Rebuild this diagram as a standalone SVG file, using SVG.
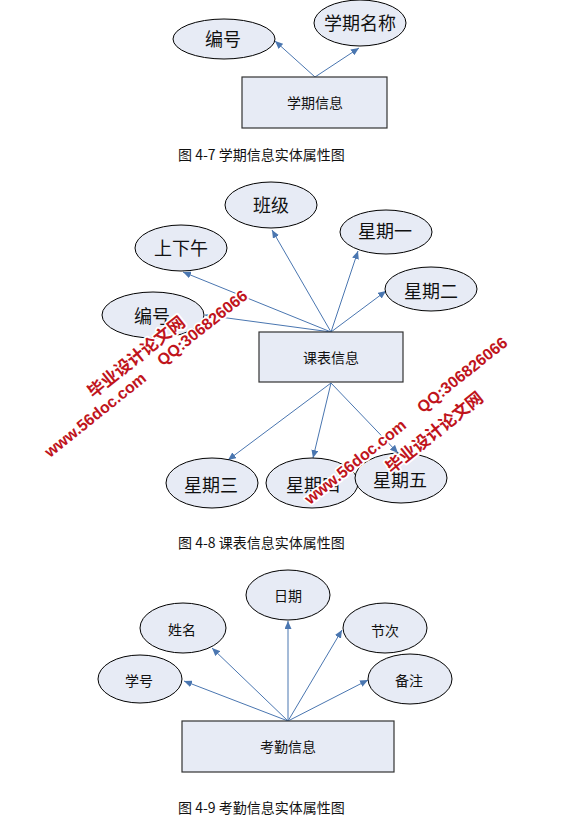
<svg xmlns="http://www.w3.org/2000/svg" width="573" height="819" viewBox="0 0 573 819">
<defs>
<marker id="arr" markerUnits="userSpaceOnUse" markerWidth="9" markerHeight="7" refX="8" refY="3.5" orient="auto">
<path d="M0,0 L8,3.5 L0,7 z" fill="#4a76b0"/>
</marker>
</defs>
<style>
.ell{fill:#e7ebf5;stroke:#000;stroke-width:1}
.box{fill:#e7ebf5;stroke:#333;stroke-width:1.2}
.lbl{font-family:"Noto Sans CJK SC","Noto Sans CJK JP",sans-serif;fill:#111;text-anchor:middle;dominant-baseline:central}
.big{font-size:18px}
.sm{font-size:14px}
.cap{font-family:"Noto Sans CJK SC",sans-serif;font-size:14px;fill:#111}
.con line{stroke:#4a76b0;stroke-width:1;marker-end:url(#arr)}
.wm{font-weight:bold;fill:#c0141c;stroke:#fff;stroke-width:3.5;stroke-linejoin:round;paint-order:stroke}
.wml{font-family:"Liberation Sans",Arial,sans-serif;font-size:16px}
.wmc{font-family:"Noto Sans CJK SC",sans-serif;font-size:17px}
</style>
<rect width="573" height="819" fill="#fff"/>

<!-- Figure 4-7 -->
<g id="connectors-47" class="con">
<line x1="315" y1="77" x2="275" y2="41"/>
<line x1="315" y1="77" x2="359" y2="48"/>
</g>
<g id="n47-bianhao"><ellipse class="ell" cx="224" cy="39" rx="51" ry="20"/><text class="lbl big" x="223" y="38">编号</text></g>
<g id="n47-xueqimingcheng"><ellipse class="ell" cx="360" cy="23" rx="46" ry="23"/><text class="lbl big" x="360" y="22">学期名称</text></g>
<g id="n47-xueqixinxi"><rect class="box" x="242" y="77" width="145" height="51"/><text class="lbl sm" x="315" y="102">学期信息</text></g>
<text class="cap" x="178" y="160">图 4-7 学期信息实体属性图</text>

<!-- Figure 4-8 -->
<g id="connectors-48" class="con">
<line x1="331" y1="332" x2="272" y2="230"/>
<line x1="331" y1="332" x2="183" y2="272"/>
<line x1="331" y1="332" x2="358" y2="251"/>
<line x1="331" y1="332" x2="386" y2="291"/>
<line x1="331" y1="332" x2="205" y2="315"/>
<line x1="331" y1="383" x2="228" y2="460"/>
<line x1="331" y1="383" x2="313" y2="458"/>
<line x1="331" y1="383" x2="398" y2="453"/>
</g>
<g id="n48-banji"><ellipse class="ell" cx="271" cy="205" rx="46" ry="23"/><text class="lbl big" x="271" y="204">班级</text></g>
<g id="n48-shangxiawu"><ellipse class="ell" cx="181" cy="248" rx="46" ry="23"/><text class="lbl big" x="181" y="247">上下午</text></g>
<g id="n48-xingqiyi"><ellipse class="ell" cx="386" cy="232" rx="46" ry="22"/><text class="lbl big" x="385" y="230">星期一</text></g>
<g id="n48-xingqier"><ellipse class="ell" cx="431" cy="289" rx="46" ry="22"/><text class="lbl big" x="431" y="290">星期二</text></g>
<g id="n48-bianhao"><ellipse class="ell" cx="153" cy="315" rx="51" ry="23"/><text class="lbl big" x="152" y="315">编号</text></g>
<g id="n48-kebiaoxinxi"><rect class="box" x="259" y="332" width="144" height="50"/><text class="lbl sm" x="331" y="357">课表信息</text></g>
<g id="n48-xingqisan"><ellipse class="ell" cx="212" cy="483" rx="46" ry="25"/><text class="lbl big" x="211" y="484">星期三</text></g>
<g id="n48-xingqisi"><ellipse class="ell" cx="312" cy="483" rx="46" ry="25"/><text class="lbl big" x="313" y="484">星期四</text></g>
<g id="n48-xingqiwu"><ellipse class="ell" cx="401" cy="478" rx="46" ry="25"/><text class="lbl big" x="400" y="479">星期五</text></g>
<text class="cap" x="178" y="548">图 4-8 课表信息实体属性图</text>

<!-- Figure 4-9 -->
<g id="connectors-49" class="con">
<line x1="288" y1="721" x2="184" y2="681"/>
<line x1="288" y1="721" x2="212" y2="648"/>
<line x1="288" y1="721" x2="288" y2="621"/>
<line x1="288" y1="721" x2="342" y2="630"/>
<line x1="288" y1="721" x2="368" y2="680"/>
</g>
<g id="n49-riqi"><ellipse class="ell" cx="288" cy="595" rx="42" ry="25"/><text class="lbl sm" x="288" y="595">日期</text></g>
<g id="n49-xingming"><ellipse class="ell" cx="183" cy="628" rx="43" ry="25"/><text class="lbl sm" x="182" y="629">姓名</text></g>
<g id="n49-jieci"><ellipse class="ell" cx="385" cy="628" rx="42" ry="25"/><text class="lbl sm" x="385" y="630">节次</text></g>
<g id="n49-xuehao"><ellipse class="ell" cx="140" cy="679" rx="42" ry="24"/><text class="lbl sm" x="139" y="680">学号</text></g>
<g id="n49-beizhu"><ellipse class="ell" cx="410" cy="679" rx="42" ry="25"/><text class="lbl sm" x="409" y="680">备注</text></g>
<g id="n49-kaoqinxinxi"><rect class="box" x="182" y="721" width="212" height="51"/><text class="lbl sm" x="288" y="746">考勤信息</text></g>
<text class="cap" x="178" y="813">图 4-9 考勤信息实体属性图</text>

<!-- Watermarks -->
<g class="wm" transform="translate(50,458) rotate(-38.7)">
<text class="wml" x="0" y="0">www.56doc.com</text>
<text class="wml" x="145" y="-1">QQ:306826066</text>
<text class="wmc" x="71" y="-19">毕业设计论文网</text>
</g>
<g class="wm" transform="translate(310,505) rotate(-38.7)">
<text class="wml" x="0" y="0">www.56doc.com</text>
<text class="wml" x="145" y="-1">QQ:306826066</text>
<text class="wmc" x="83" y="27">毕业设计论文网</text>
</g>
</svg>
